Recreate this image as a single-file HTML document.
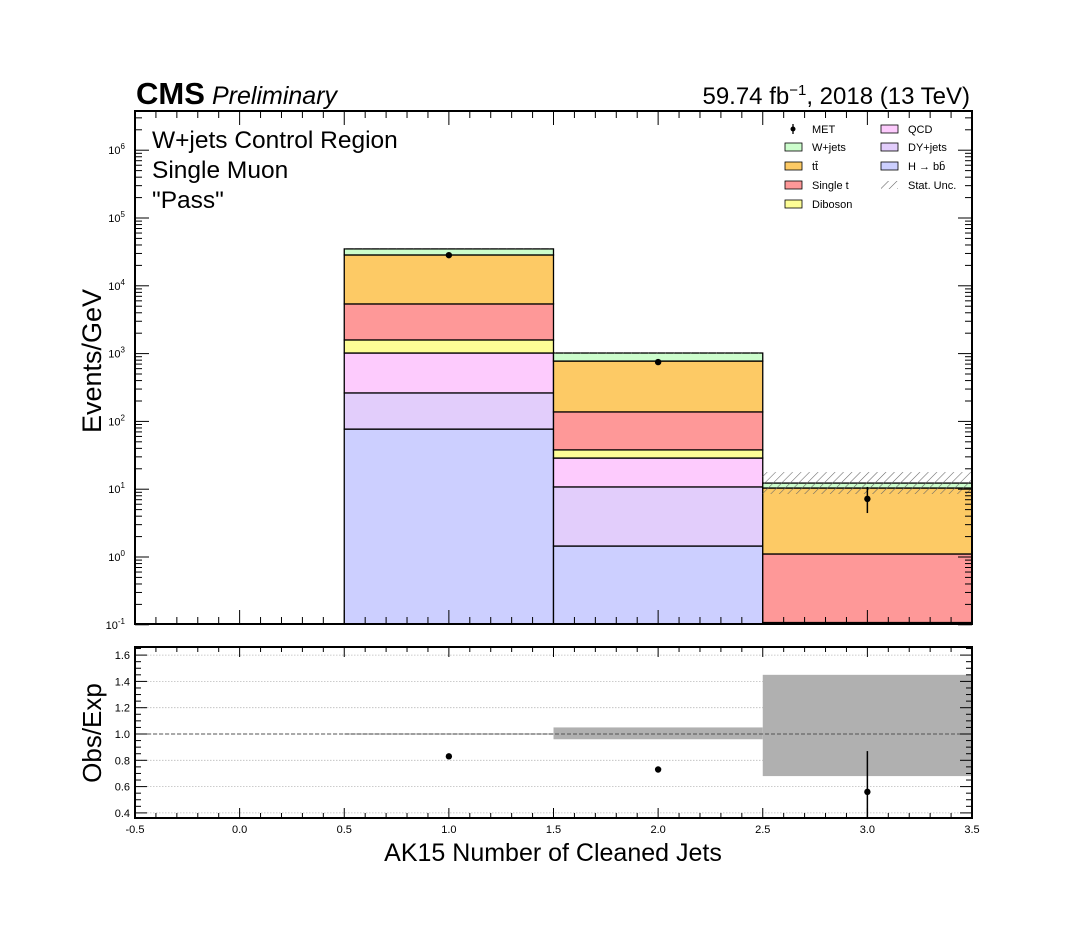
<!DOCTYPE html>
<html><head><meta charset="utf-8"><style>
body{margin:0;background:#fff;}
svg{display:block;font-family:"Liberation Sans",Arial,sans-serif;}
</style></head><body>
<svg id="c" width="1080" height="936" xmlns="http://www.w3.org/2000/svg"></svg>
<script>
const categories=[1,2,3];
const hbb=[77,1.45,0.107];
const dyjets=[186,9.35,0];
const qcd=[757,18,0];
const diboson=[570,9.2,0];
const singlet=[3810,100,1.0];
const ttbar=[23100,638,9.3];
const wjets=[6500,244,1.9];
const dataVals=[28300,750,7.2];
const dataLo=[28100,740,4.45];
const dataHi=[28500,760,10.8];
const uncLo=[34800,1000,8.5];
const uncHi=[35200,1050,17.9];
const ratioVals=[0.83,0.73,0.56];
const ratioLo=[0.82,0.72,0.36];
const ratioHi=[0.84,0.74,0.87];
const ratioUncLo=[0.995,0.96,0.68];
const ratioUncHi=[1.005,1.05,1.45];
const xTicks=[-0.5,0,0.5,1,1.5,2,2.5,3,3.5];
const ratioTicks=[0.4,0.6,0.8,1.0,1.2,1.4,1.6];
const logTicks=[-1,0,1,2,3,4,5,6];

const NS="http://www.w3.org/2000/svg";
const svg=document.getElementById('c');
const L=135,R=972,T=111,B=624,RT=647,RB=818;
const X=v=>L+(v+0.5)/4*(R-L);
const Y=v=>557-67.8*Math.log10(v);
const YR=v=>734-(v-1)*131.5;
function el(tag,attrs,parent){const e=document.createElementNS(NS,tag);for(const k in attrs)e.setAttribute(k,attrs[k]);(parent||svg).appendChild(e);return e;}
function txt(s,attrs,parent){const e=el('text',attrs,parent);e.textContent=s;return e;}

const defs=el('defs',{});
const pat=el('pattern',{id:'hatch',width:6,height:6,patternUnits:'userSpaceOnUse',patternTransform:'rotate(45)'},defs);
el('line',{x1:0,y1:0,x2:0,y2:6,stroke:'#666','stroke-width':1.1},pat);

const clipM=el('clipPath',{id:'cm'},defs);el('rect',{x:L,y:T,width:R-L,height:B-T},clipM);
const clipR=el('clipPath',{id:'cr'},defs);el('rect',{x:L,y:RT,width:R-L,height:RB-RT},clipR);

const gm=el('g',{'clip-path':'url(#cm)'});


const procs=[['h-bb',hbb,'#cccfff'],['dy-jets',dyjets,'#e2cdfb'],['qcd',qcd,'#fdcbfd'],['diboson',diboson,'#fdfd96'],['single-t',singlet,'#fe9898'],['ttbar',ttbar,'#fdca65'],['w-jets',wjets,'#ccfdcc']];
categories.forEach((c,i)=>{
  let cum=0.001;
  procs.forEach(p=>{
    const v=p[1][i];if(v<=0)return;
    const lo=cum,hi=cum+v;cum=hi;
    const r=el('rect',{x:X(c-0.5),y:Y(hi),width:X(c+0.5)-X(c-0.5),height:Y(lo)-Y(hi),fill:p[2],stroke:'#000','stroke-width':1.3},gm);
    
    
  });
  const u=el('rect',{x:X(c-0.5),y:Y(uncHi[i]),width:X(c+0.5)-X(c-0.5),height:Y(uncLo[i])-Y(uncHi[i]),fill:'url(#hatch)'},gm);
  
  
  const eb=el('line',{x1:X(c),x2:X(c),y1:Y(dataHi[i]),y2:Y(dataLo[i]),stroke:'#000','stroke-width':1.5},gm);
  
  
  const pt=el('circle',{cx:X(c),cy:Y(dataVals[i]),r:3.2,fill:'#000'},gm);
  
  
});

const gr=el('g',{'clip-path':'url(#cr)'});


ratioTicks.forEach(t=>{el('line',{x1:L,x2:R,y1:YR(t),y2:YR(t),stroke:'#bbb','stroke-width':0.8,'stroke-dasharray':'1.5,1.5'},gr);});
categories.forEach((c,i)=>{
  const b=el('rect',{x:X(c-0.5),y:YR(ratioUncHi[i]),width:X(c+0.5)-X(c-0.5),height:Math.max(1,YR(ratioUncLo[i])-YR(ratioUncHi[i])),fill:'#b0b0b0'},gr);
  
  
});
el('line',{x1:L,x2:R,y1:YR(1),y2:YR(1),stroke:'#555','stroke-width':1,'stroke-dasharray':'4,2'},gr);
categories.forEach((c,i)=>{
  const eb=el('line',{x1:X(c),x2:X(c),y1:YR(ratioHi[i]),y2:YR(ratioLo[i]),stroke:'#000','stroke-width':1.5},gr);
  
  
  const p=el('circle',{cx:X(c),cy:YR(ratioVals[i]),r:3.2,fill:'#000'},gr);
  
  
});

const tk=el('g',{stroke:'#000','stroke-width':1});
for(let k=-5;k<=35;k++){
  const v=k/10,x=X(v),maj=(k%5===0);const len=maj?14:7;
  el('line',{x1:x,x2:x,y1:B,y2:B-len},tk);el('line',{x1:x,x2:x,y1:T,y2:T+len},tk);
  const l2=maj?10:5;
  el('line',{x1:x,x2:x,y1:RB,y2:RB-l2},tk);el('line',{x1:x,x2:x,y1:RT,y2:RT+l2},tk);
}
for(let d=-1;d<=6;d++){
  for(let m=1;m<=9;m++){
    const v=m*Math.pow(10,d),y=Y(v);if(y<T)continue;
    const len=m===1?14:7;
    el('line',{x1:L,x2:L+len,y1:y,y2:y},tk);el('line',{x1:R,x2:R-len,y1:y,y2:y},tk);
  }
}
for(let k=8;k<=33;k++){
  const v=k*0.05,y=YR(v);if(y<RT||y>RB)continue;const maj=(k%4===0);const len=maj?12:6;
  el('line',{x1:L,x2:L+len,y1:y,y2:y},tk);el('line',{x1:R,x2:R-len,y1:y,y2:y},tk);
}
const f1=el('rect',{x:L,y:T,width:R-L,height:B-T,fill:'none',stroke:'#000','stroke-width':2});

const f2=el('rect',{x:L,y:RT,width:R-L,height:RB-RT,fill:'none',stroke:'#000','stroke-width':2});


logTicks.forEach(d=>{
  const t=txt('10',{x:L-10,y:Y(Math.pow(10,d))+4,'font-size':11,'text-anchor':'end'});
  const s=el('tspan',{dy:-5,'font-size':8},t);s.textContent=String(d);
  
});
ratioTicks.forEach(v=>{const t=txt(v.toFixed(1),{x:L-5,y:YR(v)+4,'font-size':11,'text-anchor':'end'});
  });
xTicks.forEach(v=>{const t=txt(v.toFixed(1),{x:X(v),y:833,'font-size':11,'text-anchor':'middle'});
  });
</script>
<script>
(function(){
const s=document.getElementById('c');const NS="http://www.w3.org/2000/svg";
function t(str,a,name){const e=document.createElementNS(NS,'text');for(const k in a)e.setAttribute(k,a[k]);e.textContent=str;s.appendChild(e);return e;}
t('CMS',{x:136,y:104,'font-size':31,'font-weight':'bold'},'cms-label');
t('Preliminary',{x:212,y:104,'font-size':25,'font-style':'italic'},'preliminary-label');
const lum=t('59.74 fb',{x:970,y:104,'font-size':24,'text-anchor':'end'},'lumi-label');
const sp=document.createElementNS(NS,'tspan');sp.setAttribute('dy','-9');sp.setAttribute('font-size','15');sp.textContent='−1';lum.appendChild(sp);
const sp2=document.createElementNS(NS,'tspan');sp2.setAttribute('dy','9');sp2.textContent=', 2018 (13 TeV)';lum.appendChild(sp2);
t('W+jets Control Region',{x:152,y:148,'font-size':24.5},'region-label');
t('Single Muon',{x:152,y:178,'font-size':24.5},'channel-label');
t('"Pass"',{x:152,y:208,'font-size':24.5},'selection-label');
t('Events/GeV',{x:0,y:0,'font-size':27,'text-anchor':'middle',transform:'translate(101,361) rotate(-90)'},'y-axis-title');
t('Obs/Exp',{x:0,y:0,'font-size':26,'text-anchor':'middle',transform:'translate(101,733) rotate(-90)'},'ratio-axis-title');
t('AK15 Number of Cleaned Jets',{x:553,y:861,'font-size':25,'text-anchor':'middle'},'x-axis-title');
const items=[['MET',785,130,'pt'],['W+jets',785,148,'#ccfdcc'],['tt̄',785,167,'#fdca65'],['Single t',785,186,'#fe9898'],['Diboson',785,205,'#fdfd96'],['QCD',881,130,'#fdcbfd'],['DY+jets',881,148,'#e2cdfb'],['H → bb̄',881,167,'#cccfff'],['Stat. Unc.',881,186,'hatch']];
items.forEach(it=>{
  const g=document.createElementNS(NS,'g');s.appendChild(g);
  const [lab,x,y,f]=it;
  if(f==='pt'){const c=document.createElementNS(NS,'circle');c.setAttribute('cx',x+8);c.setAttribute('cy',y-1);c.setAttribute('r',2.5);g.appendChild(c);
    const l=document.createElementNS(NS,'line');l.setAttribute('x1',x+8);l.setAttribute('x2',x+8);l.setAttribute('y1',y-6);l.setAttribute('y2',y+4);l.setAttribute('stroke','#000');l.setAttribute('stroke-width',1.3);g.appendChild(l);}
  else if(f==='hatch'){const r=document.createElementNS(NS,'rect');r.setAttribute('x',x);r.setAttribute('y',y-5);r.setAttribute('width',17);r.setAttribute('height',8);r.setAttribute('fill','url(#hatch)');g.appendChild(r);}
  else{const r=document.createElementNS(NS,'rect');r.setAttribute('x',x);r.setAttribute('y',y-5);r.setAttribute('width',17);r.setAttribute('height',8);r.setAttribute('fill',f);r.setAttribute('stroke','#000');r.setAttribute('stroke-width',0.8);g.appendChild(r);}
  const tx=document.createElementNS(NS,'text');tx.setAttribute('x',x+27);tx.setAttribute('y',y+3);tx.setAttribute('font-size',11);tx.textContent=lab;g.appendChild(tx);
});
})();
</script>
</body></html>
